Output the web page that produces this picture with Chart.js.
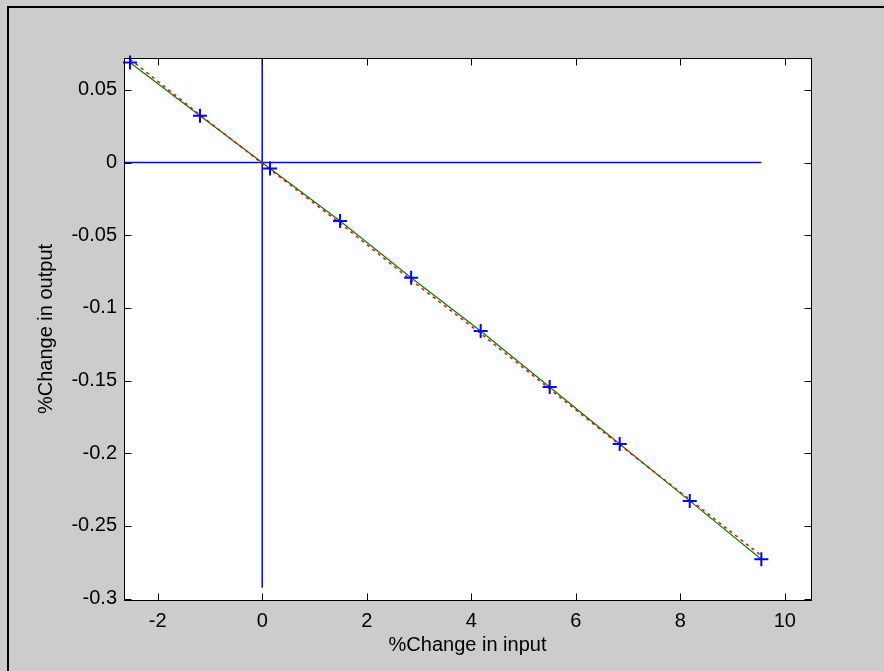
<!DOCTYPE html>
<html>
<head>
<meta charset="utf-8">
<script src="https://cdn.jsdelivr.net/npm/chart.js@4"></script>
<style>
  html, body { margin: 0; padding: 0; background: #cccccc; }
  #frame { position: absolute; left: 7px; top: 6px; width: 900px; height: 700px;
           border-left: 2px solid #000; border-top: 2px solid #000; }
  #plot { position: absolute; left: 0; top: 0; }
</style>
</head>
<body>
<div id="frame"></div>
<canvas id="plot" width="884" height="671"></canvas>
<script>
// Measured points (+ markers, joined by the green line)
const inputPct = [-2.53, -1.19, 0.15, 1.49, 2.85, 4.18, 5.50, 6.84, 8.18, 9.55];
const outputPct = [0.0689, 0.0322, -0.0040, -0.0402, -0.0792, -0.1159, -0.1544, -0.1936, -0.2328, -0.2729];

// Red dashed curve
const curveY = [0.0712, 0.0328, -0.0047, -0.0417, -0.0809, -0.1176, -0.1558, -0.1943, -0.2319, -0.2705];

// Blue zero lines
const hLineX = [-2.644, 9.55];
const hLineY = [0, 0];
const vLineX = [0, 0];
const vLineY = [-0.2925, 0.072];

// Axes
const xTicks = [-2, 0, 2, 4, 6, 8, 10];
const yTicks = [-0.3, -0.25, -0.2, -0.15, -0.1, -0.05, 0, 0.05];
const xMin = -2.644, xMax = 10.50;
const yMin = -0.301, yMax = 0.072;

const FONT = { family: '"Liberation Sans", Arial, sans-serif', size: 20 };

function pts(xs, ys) {
  return xs.map((v, i) => ({ x: v, y: ys[i] }));
}

// White plot box, black frame and inward ticks like the original
const axesFrame = {
  id: 'axesFrame',
  beforeDraw(chart) {
    const { ctx, chartArea: a } = chart;
    ctx.save();
    ctx.fillStyle = '#ffffff';
    ctx.fillRect(a.left, a.top, a.right - a.left, a.bottom - a.top);
    ctx.restore();
  },
  afterDraw(chart) {
    const { ctx, chartArea: a, scales } = chart;
    const L = Math.round(a.left) + 0.5, R = Math.round(a.right) + 0.5;
    const T = Math.round(a.top) + 0.5, B = Math.round(a.bottom) + 0.5;
    const len = 7;
    ctx.save();
    ctx.strokeStyle = '#000000';
    ctx.lineWidth = 1;
    ctx.strokeRect(L, T, R - L, B - T);
    ctx.beginPath();
    xTicks.forEach(v => {
      const px = Math.round(scales.x.getPixelForValue(v)) + 0.5;
      ctx.moveTo(px, B); ctx.lineTo(px, B - len);
      ctx.moveTo(px, T); ctx.lineTo(px, T + len);
    });
    yTicks.forEach(v => {
      const py = Math.round(scales.y.getPixelForValue(v)) + 0.5;
      ctx.moveTo(L, py); ctx.lineTo(L + len, py);
      ctx.moveTo(R, py); ctx.lineTo(R - len, py);
    });
    ctx.stroke();
    ctx.restore();
  }
};

// first dataset is drawn on top
new Chart(document.getElementById('plot'), {
  type: 'scatter',
  data: {
    datasets: [
      {
        label: 'Data',
        data: pts(inputPct, outputPct),
        showLine: false,
        pointStyle: 'cross',
        pointRadius: 7,
        pointBorderWidth: 2,
        borderColor: '#0000ff',
        backgroundColor: '#0000ff',
        clip: false
      },
      {
        label: 'Curve',
        data: pts(inputPct, curveY),
        showLine: true,
        borderColor: '#ff0000',
        borderWidth: 1.5,
        borderDash: [3, 4],
        pointRadius: 0
      },
      {
        label: 'Output',
        data: pts(inputPct, outputPct),
        showLine: true,
        borderColor: '#008000',
        borderWidth: 1.2,
        pointRadius: 0
      },
      {
        label: 'x = 0',
        data: pts(vLineX, vLineY),
        showLine: true,
        borderColor: '#0000ff',
        borderWidth: 1.5,
        pointRadius: 0
      },
      {
        label: 'y = 0',
        data: pts(hLineX, hLineY),
        showLine: true,
        borderColor: '#0000ff',
        borderWidth: 1.5,
        pointRadius: 0
      }
    ]
  },
  options: {
    responsive: false,
    animation: false,
    layout: { padding: { top: 58, right: 73, left: 0, bottom: 0 } },
    scales: {
      x: {
        type: 'linear',
        min: xMin,
        max: xMax,
        afterBuildTicks: s => { s.ticks = xTicks.map(v => ({ value: v })); },
        afterFit: s => { s.height = 71; },
        grid: { display: false, drawTicks: false },
        border: { display: false },
        ticks: {
          padding: 9,
          color: '#000000',
          font: FONT,
          maxRotation: 0,
          callback: v => String(v)
        },
        title: {
          display: true,
          text: '%Change in input',
          color: '#000000',
          font: FONT,
          padding: { top: 0, bottom: 14 }
        }
      },
      y: {
        type: 'linear',
        min: yMin,
        max: yMax,
        afterBuildTicks: s => { s.ticks = yTicks.map(v => ({ value: v })); },
        afterFit: s => { s.width = 124; },
        grid: { display: false, drawTicks: false },
        border: { display: false },
        ticks: {
          padding: 7,
          color: '#000000',
          font: FONT,
          callback: v => String(parseFloat(v.toFixed(2)))
        },
        title: {
          display: true,
          text: '%Change in output',
          color: '#000000',
          font: FONT,
          padding: { top: 34, bottom: 0 }
        }
      }
    },
    plugins: {
      legend: { display: false },
      tooltip: { enabled: false }
    }
  },
  plugins: [axesFrame]
});
</script>
</body>
</html>
